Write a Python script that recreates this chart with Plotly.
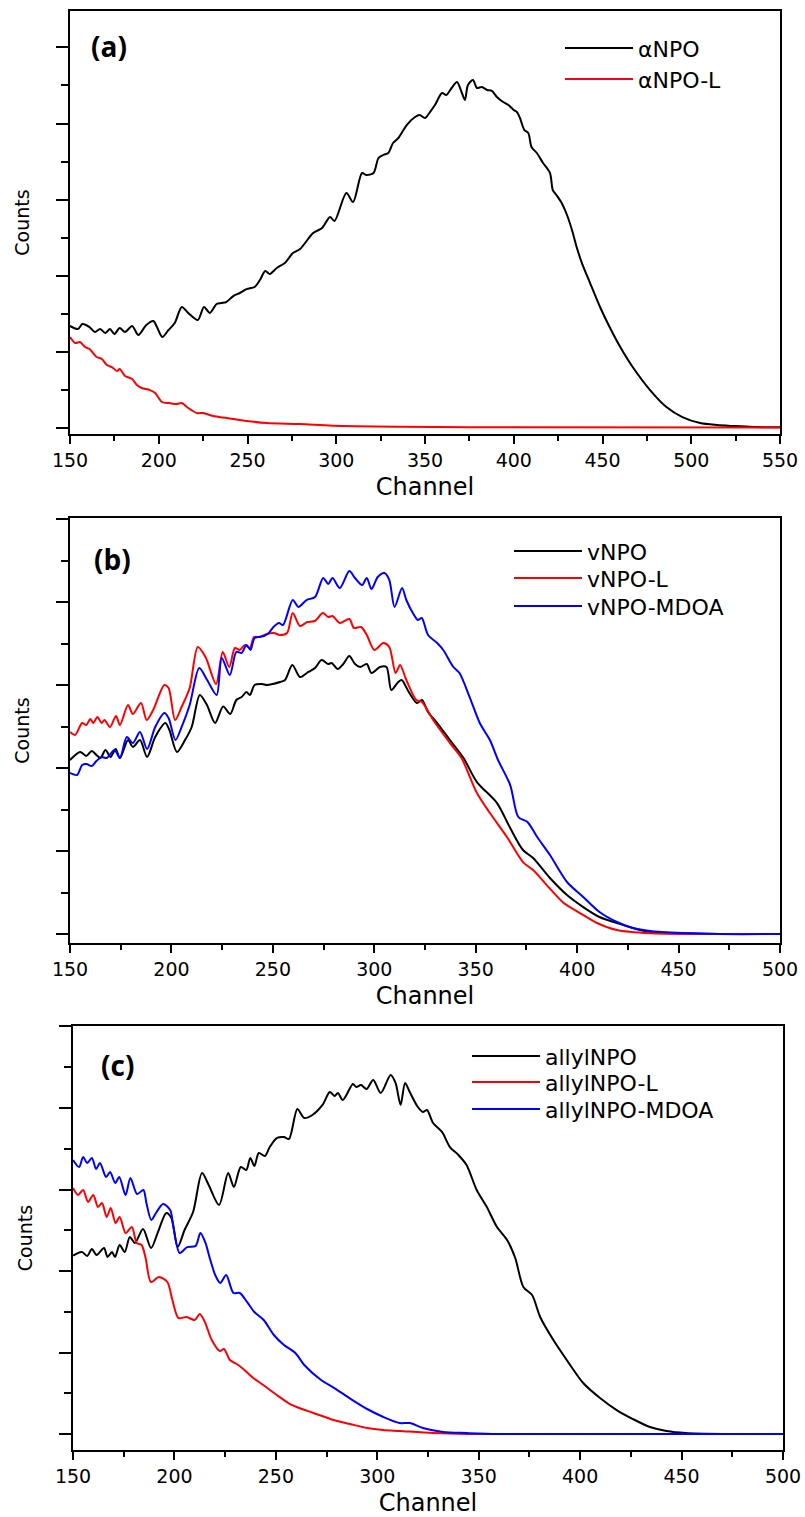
import plotly.graph_objects as go

# ---------------- Panel (a) ----------------
ch_a_npo = [150,154.5,157,161,164,167,170,172.5,175,178,181,185,188.5,193,197,199,202,205.5,209,213,216.6,222,225.5,228.8,232.6,235.4,238,242,245.7,249.5,254,257,260,262.6,266.5,271,275.6,279.6,287,292,296.5,299,305.7,309.5,314.5,317,321,323.8,326.5,329.3,332,335,339.7,344.4,347,350,352.8,355.6,359.6,362,365,368,370.8,372.5,374.2,377,379.3,382,385,387.7,390.5,394,397,400,401.8,403.5,406,408.2,410,413,416.5,420.4,422,424,427,430,432.8,435.6,438.4,443,448.6,454,460,467,476.8,486,495,505,514.5,523.5,535,550]
cnt_a_npo = [1336,1296,1362,1322,1257,1296,1243,1296,1230,1309,1257,1336,1217,1349,1401,1322,1191,1283,1375,1586,1507,1414,1586,1507,1625,1638,1651,1730,1770,1822,1849,1941,2059,2020,2099,2164,2296,2349,2559,2625,2770,2717,3086,2967,3349,3322,3349,3546,3586,3612,3743,3809,3980,4086,4112,4072,4151,4243,4401,4375,4467,4546,4401,4309,4507,4572,4467,4480,4441,4428,4349,4283,4243,4178,4151,4072,3914,3875,3691,3612,3480,3349,3125,3059,2954,2796,2599,2362,2164,1901,1586,1322,1059,796,493,270,138,59,33,20,7,3]

ch_a_npol = [150,153,155.6,158.5,161,165,168,170.8,173.6,176.5,178,181,185,187.7,190.4,195,198,201.8,206,210,213,216.6,221.5,225,230.6,238.4,249.5,260.8,279.6,298,336,400,550]
cnt_a_npol = [1191,1112,1125,1059,1033,928,901,822,796,743,770,678,638,559,520,493,454,336,322,309,322,257,191,191,151,125,86,59,46,24,11,3,0]

# ---------------- Panel (b) ----------------
ch_b_v = [150,155,158,160.7,163,165,167.5,170,172.5,174.6,178.6,181,184.5,188,192,197,199,202.7,206.7,210,214,217.5,221.5,225.5,229,232,234.6,237,238.7,241,244.6,247,250,253.5,256,259.6,263.4,267.5,270.8,274,277.3,279,282,284.7,287.7,290.5,293,296.3,298.6,302.8,306,308.4,311.8,313.5,317,321,323.5,326.5,331,337.3,344,350.6,360.5,367,373.3,378.3,386.6,395,403,411,419.6,427.5,436,452,470,500]
cnt_b_v = [2096,2193,2145,2205,2157,2120,2217,2133,2229,2120,2337,2253,2337,2133,2373,2542,2458,2193,2337,2494,2880,2759,2542,2740,2651,2819,2855,2916,2880,3000,3012,3000,3012,3036,3060,3241,3096,3157,3205,3301,3253,3265,3193,3253,3349,3253,3217,3253,3145,3217,3217,2940,3036,3060,2916,2783,2819,2675,2542,2337,2120,1831,1578,1277,1012,916,675,470,325,205,133,72,24,8,0,0]

ch_b_vl = [150,152.5,156,158,160,161.5,163.5,165.6,167,169.7,172.7,174.6,178.6,181,185,187.8,191,196.5,198.6,201.8,205,209,213,216.8,222,225.3,228.5,231.3,233.7,236.3,238.7,240.7,243.6,247,250.5,253.5,257,259.8,263.4,267,270.7,274.6,277.3,279.4,283,287.7,290,293.5,296.3,300,304.4,307.4,310.5,312.7,315.8,320.7,323.5,329,337.3,343,350.6,357,365.4,373.3,378.3,385,393.4,401.4,409.8,419.6,436,460,500]
cnt_b_vl = [2434,2398,2542,2518,2590,2542,2614,2542,2578,2494,2627,2518,2759,2651,2783,2578,2699,3000,2964,2578,2735,2964,3458,3337,3012,3398,3217,3446,3422,3482,3446,3578,3578,3614,3627,3602,3627,3867,3711,3759,3771,3867,3819,3831,3747,3795,3687,3699,3602,3422,3506,3458,3145,3241,3060,2819,2795,2578,2301,2120,1699,1458,1169,867,771,590,373,253,133,48,8,0,0]

ch_b_vm = [150,153.5,156,158.2,160.7,163,165.6,168,172,174.6,178,181,184.5,188,192,196.5,198.6,202,205,209,213.7,217.6,222.3,224.8,228.8,232,234.6,237,239,241,245.6,248,250.3,253,255,259.8,262.6,266.6,270.8,274.8,277.3,279.4,283,287.7,290.5,294,296.3,298.6,301.7,305,307.4,310,313.7,315.8,319,321.5,323.4,326.5,331,334,339,342,347,352,357,361,367,371,375.5,380.3,386.6,395,403,411,419.6,427.5,436,452,470,500]
cnt_b_vm = [1940,1916,2036,2048,2024,2084,2133,2120,2217,2120,2373,2301,2434,2229,2494,2663,2602,2337,2494,2759,3205,3060,2880,3325,3120,3398,3386,3482,3422,3566,3590,3627,3699,3747,3723,4024,3940,4024,4060,4289,4217,4289,4169,4373,4289,4205,4289,4157,4301,4349,4265,3940,4169,4024,3867,3783,3807,3602,3506,3422,3217,3145,2855,2542,2337,2096,1795,1410,1349,1169,952,627,446,265,145,72,36,12,0,0]

# ---------------- Panel (c) ----------------
ch_c_a = [150,154.4,157,159.3,161.6,165.3,167,169.2,170.7,173,175.5,178,180.5,184.5,188.5,191.7,196,198.5,201.6,205,209.2,213.6,216.9,222,226.5,229.3,232.7,235.4,237.4,239.4,241.6,244.6,247,250.6,254,256.5,260.6,264,268,273,276.6,279,280.6,283,288,289.6,292,294.7,298,301.7,306.6,309,311.5,313.7,316,320,322.5,324.5,327.5,331.9,335.8,340,344,349,354,359,364,368,372,376.3,380.3,386.8,393.4,401.5,409.8,418,426,434.4,442.6,452,470,500]
cnt_c_a = [2190,2233,2184,2270,2196,2282,2172,2233,2172,2319,2233,2417,2344,2515,2282,2466,2712,2650,2294,2503,2724,3202,3055,2810,3202,3031,3276,3239,3387,3288,3448,3411,3521,3632,3644,3620,3988,3877,3914,4037,4196,4147,4184,4098,4294,4258,4282,4233,4344,4184,4405,4307,4037,4307,4196,4012,3951,3975,3816,3706,3521,3423,3301,2994,2785,2540,2380,2160,1804,1706,1436,1153,908,626,442,294,184,86,37,12,0,0]

ch_c_al = [150,152.5,155,157.4,160,162.3,164.3,166.6,168.6,171,173,176,179,181.4,183.8,185.8,188.4,192.4,196.5,199,202,206,210,212.5,215,218.4,222.4,224.4,227.4,231.5,235.6,238.9,243.8,250.4,257,260.3,268.5,278.4,286.6,295,302.8,311,327.5,344,500]
cnt_c_al = [3018,2933,2994,2847,2933,2785,2834,2663,2773,2589,2663,2466,2540,2344,2319,2160,1865,1926,1865,1644,1423,1436,1399,1472,1374,1153,1018,1043,908,847,761,687,601,479,368,331,258,172,123,74,49,37,12,0,0]

ch_c_am = [150,153,155,157,159.3,161.4,163.3,166.3,168.3,170.8,172.8,175.9,178.3,181.6,184.7,186.2,188.6,191.2,194.4,197.9,199.5,202.6,206.3,210.4,212.8,215.3,217.4,220.1,222.6,225.5,229.1,232.2,235.8,239.4,244,249,254,259.6,264,272.3,278.8,287,295,303,311,316,322.5,332.4,344,360,500]
cnt_c_am = [3362,3276,3399,3325,3387,3252,3325,3153,3215,3080,3153,2933,3141,2945,2994,2834,2626,2724,2822,2748,2540,2221,2294,2307,2466,2344,2160,1951,1853,1951,1730,1730,1620,1497,1399,1215,1092,994,847,663,564,429,307,209,135,135,74,25,12,0,0]

x_ranges = dict(a=[150, 550], b=[150, 500], c=[150, 500])
BLACK, RED, BLUE = "#000000", "#ff0000", "#0000ff"

FONT = "DejaVu Sans"
W, H = 805, 1517
ML, MR, MT, MB = 70, 22, 11, 67
PW, PH = W - ML - MR, H - MT - MB
LEG_FS = 22

fig = go.Figure()

def add(x, y, name, color, xa, ya, legend):
    fig.add_trace(go.Scatter(
        x=x, y=y, name=name, mode="lines",
        line=dict(color=color, width=2, shape="spline", smoothing=0.8),
        xaxis=xa, yaxis=ya, legend=legend, hoverinfo="skip"))

add(ch_a_npo, cnt_a_npo, "\u03b1NPO", BLACK, "x", "y", "legend")
add(ch_a_npol, cnt_a_npol, "\u03b1NPO-L", RED, "x", "y", "legend2")
add(ch_b_v, cnt_b_v, "vNPO", BLACK, "x2", "y2", "legend3")
add(ch_b_vl, cnt_b_vl, "vNPO-L", RED, "x2", "y2", "legend4")
add(ch_b_vm, cnt_b_vm, "vNPO-MDOA", BLUE, "x2", "y2", "legend5")
add(ch_c_a, cnt_c_a, "allylNPO", BLACK, "x3", "y3", "legend6")
add(ch_c_al, cnt_c_al, "allylNPO-L", RED, "x3", "y3", "legend7")
add(ch_c_am, cnt_c_am, "allylNPO-MDOA", BLUE, "x3", "y3", "legend8")

def ydom(top_px, bot_px):
    return [(H - MB - bot_px) / PH, (H - MB - top_px) / PH]

def xdom(left_px, right_px):
    return [(left_px - ML) / PW, (right_px - ML) / PW]

def xaxis(rng, dom, anchor):
    return dict(
        domain=dom, range=rng, anchor=anchor,
        showline=True, linecolor="black", linewidth=2, mirror=True,
        ticks="outside", ticklen=8, tickwidth=2, tickcolor="black",
        tick0=150, dtick=50, showgrid=False, zeroline=False,
        minor=dict(ticks="outside", ticklen=5, tickwidth=2, tickcolor="black", dtick=25, showgrid=False),
        tickfont=dict(family=FONT, size=19, color="black"),
        title=dict(text="Channel", font=dict(family=FONT, size=24, color="black"), standoff=8),
    )

def yaxis(rng, dom, anchor):
    return dict(
        domain=dom, range=rng, anchor=anchor,
        showline=True, linecolor="black", linewidth=2, mirror=True,
        ticks="outside", ticklen=12, tickwidth=2, tickcolor="black",
        tick0=0, dtick=1000, showticklabels=False, showgrid=False, zeroline=False,
        minor=dict(ticks="outside", ticklen=7, tickwidth=2, tickcolor="black", dtick=500, showgrid=False),
        title=dict(text="Counts", font=dict(family=FONT, size=19, color="black"), standoff=21),
    )

def leg(line_left_px, row_center_px):
    top = row_center_px - 5 - (1.3 * LEG_FS + 3) / 2
    return dict(xref="container", yref="container",
                x=(line_left_px - 7) / W, y=1 - top / H,
                xanchor="left", yanchor="top", bgcolor="rgba(0,0,0,0)", borderwidth=0,
                font=dict(family=FONT, size=LEG_FS, color="black"), itemwidth=68)

fig.update_layout(
    width=W, height=H, margin=dict(l=ML, r=MR, t=MT, b=MB, autoexpand=False),
    paper_bgcolor="white", plot_bgcolor="white",
    font=dict(family=FONT, color="black"),
    showlegend=True,
    xaxis=xaxis(x_ranges["a"], xdom(70, 780), "y"),
    yaxis=yaxis([-85, 5480], ydom(11, 434), "x"),
    xaxis2=xaxis(x_ranges["b"], xdom(70, 780), "y2"),
    yaxis2=yaxis([-108, 5012], ydom(518, 943), "x2"),
    xaxis3=xaxis(x_ranges["c"], xdom(73, 783), "y3"),
    yaxis3=yaxis([-196, 5006], ydom(1026, 1450), "x3"),
    legend=leg(567, 48),
    legend2=leg(567, 79),
    legend3=leg(516, 551),
    legend4=leg(516, 578),
    legend5=leg(516, 606),
    legend6=leg(474, 1056),
    legend7=leg(474, 1082),
    legend8=leg(474, 1109),
)

def label(txt, xpx, ypx):
    fig.add_annotation(text="<b>%s</b>" % txt, xref="paper", yref="paper",
                       x=(xpx - ML) / PW, y=(H - MB - ypx) / PH,
                       xanchor="center", yanchor="middle", showarrow=False,
                       font=dict(family="Open Sans", size=28, color="black"))

label("(a)", 109, 46)
label("(b)", 112, 559)
label("(c)", 117, 1065)

fig.write_html("out.html", config={"displayModeBar": False},
               post_script="document.body.style.margin='0px';")
